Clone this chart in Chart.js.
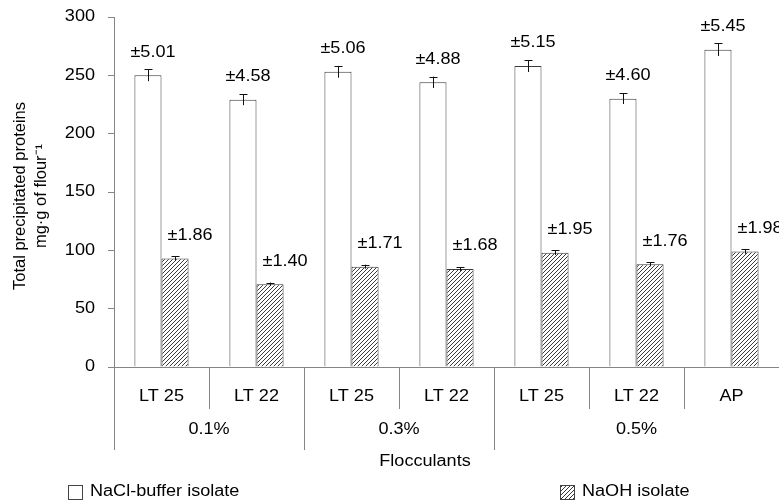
<!DOCTYPE html>
<html>
<head>
<meta charset="utf-8">
<script src="https://cdn.jsdelivr.net/npm/chart.js@4"></script>
<style>
  body { margin: 0; background: #fff; }
  #wrap { width: 779px; height: 501px; }
</style>
</head>
<body>
<div id="wrap"><canvas id="myChart" width="779" height="501"></canvas></div>
<script>
// data
const categories = ['LT 25', 'LT 22', 'LT 25', 'LT 22', 'LT 25', 'LT 22', 'AP'];
const groupLabels = ['0.1%', '0.3%', '0.5%'];
const groupSizes = [2, 2, 3];
const naclValues = [250, 229, 253, 244, 258, 230, 272];
const naclErrors = [5.01, 4.58, 5.06, 4.88, 5.15, 4.60, 5.45];
const naohValues = [93, 71, 86, 84, 98, 88, 99];
const naohErrors = [1.86, 1.40, 1.71, 1.68, 1.95, 1.76, 1.98];
const seriesNames = ['NaCl-buffer isolate', 'NaOH isolate'];
const yTitle = ['Total precipitated proteins', 'mg\u00b7g of flour\u207b\u00b9'];
const xTitle = 'Flocculants';

const FONT = '16px "Liberation Sans", Arial, sans-serif';
const TITLE_FONT = '16.5px "Liberation Sans", Arial, sans-serif';
const SX = 1.13; // the original text is a bit wide
const AXIS = '#858585';

// hatch pattern for the NaOH bars
const makeHatch = () => {
    const c = document.createElement('canvas');
    c.width = 4; c.height = 4;
    const g = c.getContext('2d');
    g.fillStyle = '#fff';
    g.fillRect(0, 0, 4, 4);
    g.strokeStyle = '#3a3a3a';
    g.lineWidth = 1;
    g.beginPath();
    g.moveTo(0, 4); g.lineTo(4, 0);
    g.moveTo(-1, 1); g.lineTo(1, -1);
    g.moveTo(3, 5); g.lineTo(5, 3);
    g.stroke();
    return g.createPattern(c, 'repeat');
};
const ctx = document.getElementById('myChart').getContext('2d');
const hatch = makeHatch();

// draw text slightly stretched sideways
const txt = (g, s, x, y, align) => {
    g.save();
    g.translate(x, y);
    g.scale(SX, 1);
    g.font = FONT;
    g.fillStyle = '#000';
    g.textAlign = align || 'center';
    g.textBaseline = 'middle';
    g.fillText(s, 0, 0);
    g.restore();
};

const extras = {
    id: 'extras',
    afterDatasetsDraw(chart) {
        const g = chart.ctx;
        const errs = [naclErrors, naohErrors];
        const shift = [5, 15];
        chart.data.datasets.forEach((ds, di) => {
            const meta = chart.getDatasetMeta(di);
            meta.data.forEach((bar, i) => {
                const y = chart.scales.y;
                const v = ds.data[i], e = errs[di][i];
                const top = y.getPixelForValue(v + e);
                const bot = y.getPixelForValue(v - e);
                const x = Math.round(bar.x) + 0.5;
                g.save();
                g.strokeStyle = '#111';
                g.lineWidth = 1;
                g.beginPath();
                g.moveTo(x, bot); g.lineTo(x, top);
                g.moveTo(x - 4, Math.round(top) + 0.5); g.lineTo(x + 4, Math.round(top) + 0.5);
                g.stroke();
                g.restore();
                txt(g, '\u00b1' + e.toFixed(2), bar.x + shift[di], bar.y - 23);
            });
        });
    },
    afterDraw(chart) {
        const g = chart.ctx;
        const x = chart.scales.x, y = chart.scales.y;
        const area = chart.chartArea;
        const step = (x.right - x.left) / categories.length;

        // y tick labels
        y.ticks.forEach(t => txt(g, String(t.value), 95, y.getPixelForValue(t.value), 'right'));

        // y title
        g.save();
        g.font = TITLE_FONT;
        g.fillStyle = '#000';
        g.textAlign = 'center';
        g.textBaseline = 'middle';
        const cy = (area.top + area.bottom) / 2 + 4;
        [20, 41].forEach((tx, k) => {
            g.save();
            g.translate(tx, cy);
            g.rotate(-Math.PI / 2);
            g.fillText(yTitle[k], 0, 0);
            g.restore();
        });
        g.restore();

        // category dividers and labels
        g.save();
        g.strokeStyle = AXIS;
        g.lineWidth = 1;
        const groupEdges = [0];
        groupSizes.forEach(n => groupEdges.push(groupEdges[groupEdges.length - 1] + n));
        for (let i = 0; i <= categories.length; i++) {
            const px = Math.round(x.left + i * step) + 0.5;
            const end = groupEdges.includes(i) ? 450 : 409;
            g.beginPath();
            g.moveTo(px, area.bottom);
            g.lineTo(px, end);
            g.stroke();
        }
        g.restore();
        categories.forEach((c, i) => txt(g, c, x.getPixelForValue(i), 397));
        groupLabels.forEach((lab, k) => {
            const a = x.left + groupEdges[k] * step, b = x.left + groupEdges[k + 1] * step;
            txt(g, lab, (a + b) / 2, 430);
        });
        txt(g, xTitle, 425, 462);

        // legend
        const boxes = [[68, '#fff'], [560, hatch]];
        boxes.forEach(([bx, fill], k) => {
            g.save();
            g.fillStyle = fill;
            g.fillRect(bx, 485, 15, 15);
            g.strokeStyle = '#444';
            g.strokeRect(bx + 0.5, 485.5, 14, 14);
            g.restore();
            txt(g, seriesNames[k], bx + 22, 492, 'left');
        });
    }
};

new Chart(ctx, {
    type: 'bar',
    data: {
        labels: categories,
        datasets: [
            {
                label: seriesNames[0],
                data: naclValues,
                backgroundColor: '#fff',
                borderColor: '#3a3a3a',
                borderWidth: 1,
                categoryPercentage: 0.57,
                barPercentage: 1.0
            },
            {
                label: seriesNames[1],
                data: naohValues,
                backgroundColor: hatch,
                borderColor: '#3a3a3a',
                borderWidth: 1,
                categoryPercentage: 0.57,
                barPercentage: 1.0
            }
        ]
    },
    options: {
        responsive: false,
        animation: false,
        devicePixelRatio: 1,
        layout: { padding: { top: 17, right: 0, bottom: 134, left: 0 } },
        plugins: { legend: { display: false }, tooltip: { enabled: false } },
        scales: {
            x: {
                ticks: { display: false },
                grid: { display: false },
                border: { display: true, color: AXIS },
                afterFit: s => { s.height = 0; }
            },
            y: {
                min: 0,
                max: 300,
                ticks: { display: false, stepSize: 50 },
                grid: { drawOnChartArea: false, drawTicks: true, tickLength: 6, color: AXIS },
                border: { display: true, color: AXIS },
                afterFit: s => { s.width = 114; }
            }
        }
    },
    plugins: [extras]
});
</script>
</body>
</html>
